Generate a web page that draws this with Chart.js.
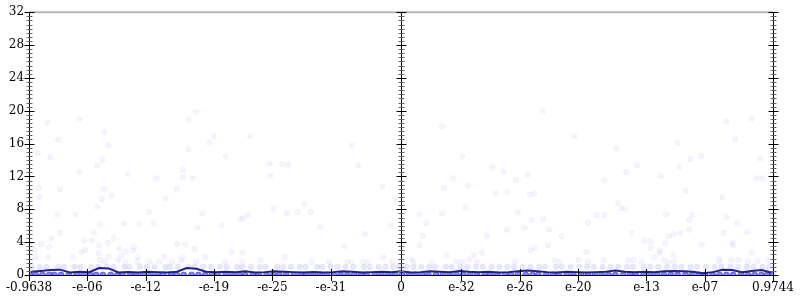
<!DOCTYPE html>
<html>
<head>
<meta charset="utf-8">
<script src="https://cdn.jsdelivr.net/npm/chart.js@4"></script>
<style>
  body { margin: 0; background: #fff; }
  #chart { display: block; }
</style>
</head>
<body>
<canvas id="chart" width="800" height="300"></canvas>
<script>
// x axis is a symmetric log scale: position = sign * (T + log10|v|), in decades
const T = 38.2;

const xTickVals = [-0.9638, -1e-6, -1e-12, -1e-19, -1e-25, -1e-31, 0, 1e-32, 1e-26, 1e-20, 1e-13, 1e-7, 0.9744];
const xTickLabels = ['-0.9638', '-e-06', '-e-12', '-e-19', '-e-25', '-e-31', '0', 'e-32', 'e-26', 'e-20', 'e-13', 'e-07', '0.9744'];
const yTicks = [0, 4, 8, 12, 16, 20, 24, 28, 32];

// scattered samples (x in decade positions, y values)
const ptX = [
  -21.0, -36.3, -33.0, -21.8, -30.5, -35.2, -19.2, -19.7, -30.0, -37.3, -21.8, -36.0, -30.6, -31.2, -33.0, -22.4,
  -28.0, -22.4, -21.4, -25.1, -37.2, -30.5, -23.0, -35.0, -29.7, -37.1, -30.7, -24.2, -31.2, -25.9, -35.3, -33.4,
  -20.4, -30.9, -28.4, -26.9, -25.4, -20.9, -35.0, -31.5, -35.9, -32.5, -31.7, -29.5, -36.9, -37.8, -23.0, -22.1,
  -36.1, -31.0, -30.1, -27.4, -32.4, -32.8, -28.9, -28.2, -27.5, -21.2, -37.6, -31.0, -28.7, -37.5, -36.2, -33.7,
  -30.0, -27.0, -24.3, -22.4, -20.1, -29.0, -30.9, -30.4, -28.3, -27.1, -25.8, -24.8, -23.5, -22.6, -21.0,
  -15.5, -18.0, -5.0, -13.5, -12.2, -11.6, -4.4, -13.4, -1.9, -0.6, -9.9, -13.1, -10.6, -9.3, -11.7, -15.7,
  -16.2, -16.5, -18.4, -8.3, -1.0, -3.7, -5.8, -17.4, -16.3, -1.8, -11.9, -14.4, -18.1, -16.3, -9.2, -7.4,
  -5.5, -5.1, -3.9, -3.4, -0.9,
  14.6, 4.2, 17.8, 6.3, 9.4, 10.5, 5.4, 13.0, 11.8, 4.4, 6.9, 9.7, 10.9, 13.2, 13.7, 6.6,
  1.9, 4.2, 12.0, 2.6, 13.4, 14.6, 19.2, 10.9, 12.7, 15.2, 2.2, 8.8, 16.5, 1.9, 15.1, 13.3,
  13.7, 19.0, 4.7, 7.5, 8.3, 7.0, 1.1, 15.8, 18.2, 3.2, 5.7, 6.3, 7.8, 11.7, 16.3, 19.2, 1.3,
  33.4, 36.0, 28.4, 34.3, 22.1, 29.7, 30.8, 24.2, 28.6, 36.9, 23.1, 26.7, 20.9, 36.5, 37.1, 29.2,
  22.3, 22.6, 23.0, 33.0, 20.1, 20.9, 27.2, 29.9, 29.6, 33.4, 34.5, 23.7, 27.5, 28.0, 28.7, 29.6,
  33.1, 35.5, 25.0, 25.6, 27.1, 30.9, 34.0, 34.1, 25.6, 26.6, 26.5, 36.0, 28.0, 26.0, 20.8, 23.3,
  23.9, 27.0, 32.6, 33.9, 34.6, 37.7, 24.7, 27.4, 28.0, 32.7, 35.6, 36.6
];
const ptY = [
  19.9, 18.6, 18.9, 18.9, 17.4, 16.5, 16.9, 16.1, 15.8, 14.9, 15.3, 14.3, 14.1, 13.3, 12.5, 12.8,
  12.3, 11.9, 11.8, 11.8, 10.6, 10.5, 10.5, 10.4, 9.7, 9.5, 9.2, 9.3, 8.3, 7.7, 7.3, 7.4,
  7.5, 6.2, 6.3, 6.2, 6.3, 5.8, 5.1, 5.2, 4.5, 4.2, 4.2, 4.5, 3.8, 3.6, 3.8, 3.7,
  3.4, 3.6, 3.9, 3.4, 3.1, 2.8, 3.2, 2.9, 3.0, 3.2, 3.0, 2.7, 2.4, 2.2, 2.2, 2.2,
  2.2, 2.2, 2.2, 2.2, 2.2, 1.9, 1.8, 1.6, 1.6, 1.6, 1.6, 1.6, 1.6, 1.8, 1.6,
  16.9, 14.4, 15.8, 13.6, 13.5, 13.4, 13.3, 12.1, 10.8, 9.2, 8.6, 8.1, 7.7, 7.7, 7.5, 7.3,
  6.9, 6.8, 6.0, 5.9, 6.1, 5.0, 3.5, 2.8, 2.7, 2.2, 2.2, 1.8, 1.6, 1.6, 1.6, 1.6,
  1.6, 1.6, 1.6, 1.6, 1.6,
  19.9, 18.1, 16.9, 14.4, 13.1, 12.6, 11.8, 12.2, 11.6, 10.6, 10.9, 10.0, 10.1, 9.8, 9.9, 8.2,
  7.4, 7.5, 7.6, 6.3, 6.7, 6.8, 6.4, 5.5, 5.8, 5.5, 4.8, 4.8, 4.7, 3.6, 3.6, 3.0,
  3.3, 2.8, 2.4, 2.4, 2.7, 1.9, 1.9, 1.8, 1.8, 1.6, 1.6, 1.6, 1.6, 1.6, 1.6, 1.6, 1.6,
  18.7, 19.0, 16.1, 16.6, 15.4, 14.1, 14.5, 13.4, 13.1, 14.2, 12.5, 12.0, 11.5, 11.8, 11.8, 10.3,
  8.8, 8.1, 8.1, 9.5, 7.3, 7.3, 7.4, 7.3, 6.7, 7.1, 6.3, 5.2, 4.7, 5.0, 5.1, 5.5,
  5.1, 5.2, 4.2, 4.1, 3.9, 3.7, 3.9, 3.6, 3.3, 3.0, 2.7, 2.7, 2.4, 2.1, 1.8, 1.8,
  1.8, 1.8, 1.9, 1.8, 1.8, 1.8, 1.6, 1.6, 1.6, 1.6, 1.6, 1.6
];

// samples sitting at value 1
const rowOneX = [
  -37.9, -37.1, -36.4, -35.2, -34.6, -33.5, -32.9, -31.8, -31.1, -30.2, -29.5, -28.4, -27.9, -26.8, -26.1, -25.3,
  -24.2, -23.7, -22.9, -21.8, -21.2, -20.3, -19.5, -18.6, -17.9, -16.8, -16.3, -15.4, -14.5, -13.9, -12.7, -12.1,
  -11.3, -10.4, -9.8, -8.6, -8.1, -7.2, -6.5, -5.7, -4.9, -3.8, -3.2, -2.3, -1.6, -0.8, -0.2, 0.6,
  1.3, 2.1, 2.9, 3.5, 4.6, 5.2, 6.1, 6.8, 7.7, 8.4, 9.3, 10.1, 10.9, 11.6, 12.5, 13.3,
  14.2, 14.8, 15.9, 16.5, 17.4, 18.3, 19.1, 19.8, 20.7, 21.5, 22.3, 23.2, 23.8, 24.9, 25.6, 26.4,
  27.3, 28.1, 28.8, 29.7, 30.4, 31.3, 32.2, 32.9, 33.8, 34.6, 35.5, 36.2, 37.1, 37.8
];

// samples sitting at value 0
const rowZeroX = [
  -38.1, -37.5, -36.8, -36.1, -35.6, -34.9, -34.1, -33.3, -32.6, -31.9, -31.3, -30.6, -29.8, -29.1, -28.6, -27.8,
  -27.2, -26.5, -25.7, -25.0, -24.4, -23.6, -23.0, -22.3, -21.5, -20.8, -20.1, -19.4, -18.8, -18.0, -17.3, -16.6,
  -16.0, -15.2, -14.6, -13.8, -13.1, -12.5, -11.8, -11.0, -10.3, -9.7, -9.0, -8.3, -7.6, -6.9, -6.2, -5.5,
  -4.8, -4.1, -3.5, -2.7, -2.0, -1.3, -0.6, 0.1, 0.8, 1.5, 2.2, 2.8, 3.6, 4.3, 5.0, 5.7,
  6.4, 7.1, 7.8, 8.6, 9.2, 9.9, 10.7, 11.3, 12.0, 12.8, 13.5, 14.1, 14.9, 15.6, 16.2, 17.0,
  17.7, 18.5, 19.2, 19.9, 20.6, 21.3, 22.0, 22.8, 23.5, 24.1, 24.9, 25.6, 26.3, 27.0, 27.7, 28.4,
  29.2, 29.9, 30.6, 31.2, 32.0, 32.7, 33.4, 34.1, 34.9, 35.6, 36.3, 37.0, 37.6, 38.1
];

// running mean line
const lineX = [
  -38, -37, -36, -35, -34, -33, -32, -31, -30, -29, -28, -27, -26, -25, -24, -23, -22, -21, -20, -19,
  -18, -17, -16, -15, -14, -13, -12, -11, -10, -9, -8, -7, -6, -5, -4, -3, -2, -1, 0,
  1, 2, 3, 4, 5, 6, 7, 8, 9, 10, 11, 12, 13, 14, 15, 16, 17, 18, 19,
  20, 21, 22, 23, 24, 25, 26, 27, 28, 29, 30, 31, 32, 33, 34, 35, 36, 37, 38
];
const lineY = [
  0.4, 0.5, 0.6, 0.65, 0.3, 0.4, 0.35, 0.85, 0.8, 0.3, 0.35, 0.3, 0.4, 0.35, 0.3, 0.4, 0.85, 0.75, 0.4, 0.35,
  0.4, 0.35, 0.45, 0.3, 0.35, 0.45, 0.4, 0.35, 0.3, 0.35, 0.3, 0.35, 0.45, 0.4, 0.3, 0.35, 0.4, 0.35, 0.45,
  0.3, 0.35, 0.45, 0.4, 0.35, 0.5, 0.4, 0.35, 0.4, 0.3, 0.35, 0.45, 0.55, 0.45, 0.35, 0.3, 0.4, 0.35, 0.3,
  0.35, 0.4, 0.55, 0.4, 0.35, 0.4, 0.35, 0.45, 0.5, 0.45, 0.4, 0.2, 0.35, 0.65, 0.6, 0.35, 0.5, 0.6, 0.3
];

function symPos(v) {
  if (v === 0) return 0;
  return Math.sign(v) * (T + Math.log10(Math.abs(v)));
}

const dotStyle = {
  pointRadius: 2.6,
  pointBackgroundColor: 'rgba(90, 90, 255, 0.06)',
  pointBorderColor: 'rgba(90, 90, 255, 0.06)',
  pointBorderWidth: 1,
  showLine: false
};

const labelFont = { family: 'DejaVu Serif', size: 12 };

// axis lines with ticks crossing both sides, plus the middle axis at 0
const axesPlugin = {
  id: 'axes',
  afterDatasetsDraw(chart) {
    const ctx = chart.ctx;
    const xs = chart.scales.x, ys = chart.scales.y;
    const top = ys.getPixelForValue(32), bot = ys.getPixelForValue(0);
    const left = xs.getPixelForValue(xs.min), right = xs.getPixelForValue(xs.max);
    ctx.save();

    ctx.strokeStyle = '#b4b4b4';
    ctx.lineWidth = 2;
    ctx.beginPath();
    ctx.moveTo(left, top);
    ctx.lineTo(right, top);
    ctx.stroke();

    ctx.strokeStyle = '#000';
    ctx.lineWidth = 1;
    ctx.beginPath();
    ctx.moveTo(left, Math.round(bot) + 0.5);
    ctx.lineTo(right, Math.round(bot) + 0.5);
    ctx.stroke();

    xTickVals.forEach(v => {
      const px = Math.round(xs.getPixelForValue(symPos(v))) + 0.5;
      ctx.beginPath();
      ctx.moveTo(px, bot - 6);
      ctx.lineTo(px, bot + 6);
      ctx.stroke();
    });

    [xs.min, 0, xs.max].forEach(xv => {
      const px = Math.round(xs.getPixelForValue(xv)) + 0.5;
      ctx.strokeStyle = '#000';
      ctx.beginPath();
      ctx.moveTo(px, top);
      ctx.lineTo(px, bot);
      ctx.stroke();
      for (let k = 0; k <= 64; k++) {
        const val = k / 2;
        const py = Math.round(ys.getPixelForValue(val)) + 0.5;
        const major = k % 8 === 0;
        const len = major ? 5 : 3;
        ctx.strokeStyle = major ? '#000' : '#666';
        ctx.beginPath();
        ctx.moveTo(px - len, py);
        ctx.lineTo(px + len, py);
        ctx.stroke();
      }
    });
    ctx.restore();
  }
};

new Chart(document.getElementById('chart'), {
  type: 'scatter',
  data: {
    datasets: [
      {
        type: 'line',
        data: lineX.map((x, i) => ({ x: x, y: lineY[i] })),
        borderColor: '#1f1f8f',
        borderWidth: 2,
        pointRadius: 0,
        tension: 0,
        fill: false,
        order: 0
      },
      Object.assign({ data: ptX.map((x, i) => ({ x: x, y: ptY[i] })), order: 1 }, dotStyle),
      Object.assign({ data: rowOneX.map(x => ({ x: x, y: 1 })), order: 2 }, dotStyle, {
        pointBackgroundColor: 'rgba(90, 90, 255, 0.14)',
        pointBorderColor: 'rgba(90, 90, 255, 0.1)'
      }),
      Object.assign({ data: rowZeroX.map(x => ({ x: x, y: 0 })), order: 3 }, dotStyle, {
        pointRadius: 3,
        pointBackgroundColor: 'rgba(50, 50, 235, 0.6)',
        pointBorderColor: 'rgba(50, 50, 235, 0.6)'
      })
    ]
  },
  options: {
    responsive: false,
    animation: false,
    devicePixelRatio: 1,
    layout: { padding: { top: 7, right: 23, left: 0, bottom: 0 } },
    plugins: { legend: { display: false }, tooltip: { enabled: false } },
    scales: {
      x: {
        type: 'linear',
        min: symPos(xTickVals[0]),
        max: symPos(xTickVals[xTickVals.length - 1]),
        grid: { display: false, drawTicks: false },
        border: { display: false },
        afterBuildTicks: axis => {
          axis.ticks = xTickVals.map(v => ({ value: symPos(v) }));
        },
        afterFit: scale => { scale.height = 25; },
        ticks: {
          autoSkip: false,
          maxRotation: 0,
          padding: 6,
          color: '#000',
          font: labelFont,
          callback: (val, i) => xTickLabels[i]
        }
      },
      y: {
        min: 0,
        max: 32,
        grid: { display: false, drawTicks: false },
        border: { display: false },
        afterBuildTicks: axis => {
          axis.ticks = yTicks.map(v => ({ value: v }));
        },
        afterFit: scale => { scale.width = 24; },
        ticks: {
          padding: 5,
          color: '#000',
          font: labelFont
        }
      }
    }
  },
  plugins: [axesPlugin]
});
</script>
</body>
</html>
